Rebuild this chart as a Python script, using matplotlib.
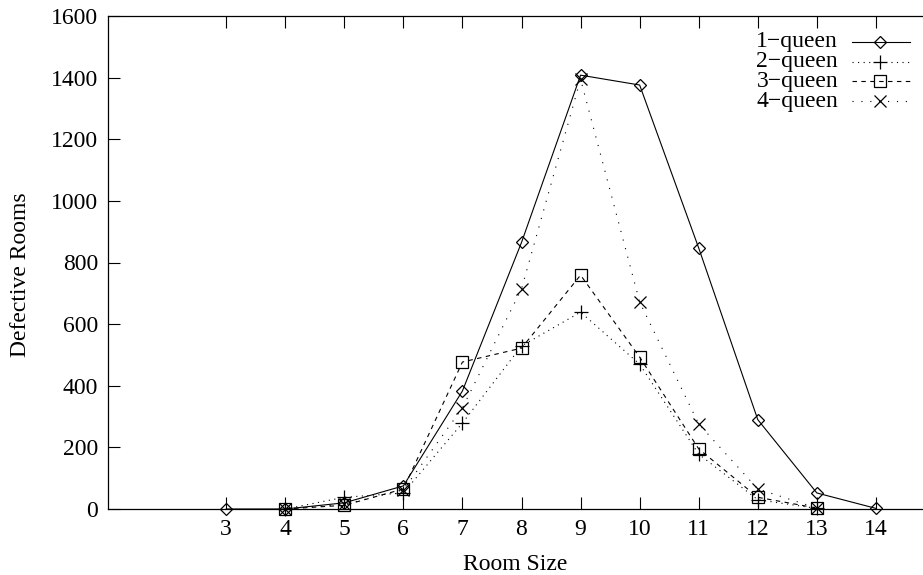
import matplotlib
matplotlib.use("Agg")
import matplotlib.pyplot as plt
from matplotlib.lines import Line2D

# data
room_size_1 = [3, 4, 5, 6, 7, 8, 9, 10, 11, 12, 13, 14]
queen_1 = [0, 0, 20, 75, 383, 865, 1408, 1376, 847, 290, 52, 2]

room_size = [4, 5, 6, 7, 8, 9, 10, 11, 12, 13]
queen_2 = [0, 38, 52, 279, 529, 639, 470, 178, 30, 2]
queen_3 = [0, 12, 65, 477, 522, 759, 493, 195, 38, 3]
queen_4 = [0, 15, 62, 328, 714, 1395, 672, 276, 65, 3]

labels = ["1\u2212queen", "2\u2212queen", "3\u2212queen", "4\u2212queen"]
x_ticks = list(range(3, 15))
y_ticks = [0, 200, 400, 600, 800, 1000, 1200, 1400, 1600]

plt.rcParams['font.family'] = ['Liberation Serif', 'DejaVu Serif']
plt.rcParams['font.size'] = 17

fig = plt.figure(figsize=(9.23, 5.75), dpi=100)
ax = fig.add_axes([108 / 923, 1 - 509 / 575, 827 / 923, 493 / 575])

styles = [
    dict(ls='-', marker='D', ms=6.2),
    dict(ls=(0, (1, 4)), marker='+', ms=10),
    dict(ls=(0, (4, 4)), marker='s', ms=8.5),
    dict(ls=(0, (1, 7)), marker='x', ms=8),
]
series = [(room_size_1, queen_1), (room_size, queen_2),
          (room_size, queen_3), (room_size, queen_4)]

for (xs, ys), st in zip(series, styles):
    ax.plot(xs, ys, color='black', lw=0.8, mfc='none', mec='black',
            mew=0.9, clip_on=False, **st)

ax.set_xlim(1, 15)
ax.set_ylim(0, 1600)
ax.set_xticks(x_ticks)
ax.set_yticks(y_ticks)
ax.tick_params(direction='in', length=8.5, width=0.8, top=True, right=True,
               labelsize=17)
ax.tick_params(axis='x', pad=7)
ax.tick_params(axis='y', pad=7)
for s in ax.spines.values():
    s.set_linewidth(0.9)

ax.set_xlabel("Room Size", fontsize=17)
ax.set_ylabel("Defective Rooms", fontsize=17)
ax.xaxis.set_label_coords(0.492, -0.091)
ax.yaxis.set_label_coords(-0.093, 0.475)

# key, gnuplot style: text on the left, sample on the right
row_y = [42, 62, 81, 101]
for lab, st, yp in zip(labels, styles, row_y):
    yf = (509 - yp) / 493
    ax.text((838 - 108) / 827, yf, lab, transform=ax.transAxes,
            ha='right', va='center', fontsize=17)
    ax.add_line(Line2D([(852 - 108) / 827, (910 - 108) / 827], [yf, yf],
                       transform=ax.transAxes, color='black', lw=0.8,
                       ls=st['ls'], clip_on=False))
    ax.add_line(Line2D([(880 - 108) / 827], [yf], transform=ax.transAxes,
                       color='black', marker=st['marker'], ms=st['ms'],
                       mfc='none', mew=0.9, ls='none', clip_on=False))

fig.savefig("out.png", dpi=100)
